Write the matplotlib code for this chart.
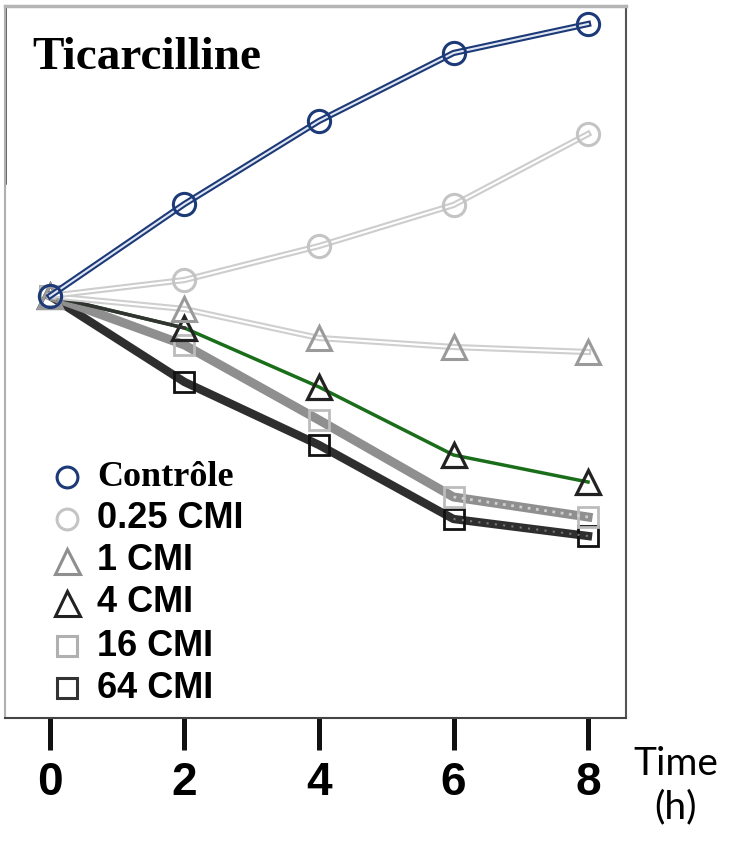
import matplotlib
matplotlib.use("Agg")
import matplotlib.pyplot as plt
import matplotlib.patheffects as pe

# sampling times (h)
time_h = [0, 2, 4, 6, 8]

# bacterial counts (log10 CFU/mL) per concentration
controle = [6.00, 6.92, 7.75, 8.43, 8.72]
cmi_025 = [6.00, 6.16, 6.50, 6.91, 7.62]
cmi_1 = [6.00, 5.87, 5.58, 5.49, 5.44]
cmi_4 = [6.00, 5.68, 5.09, 4.41, 4.14]
cmi_16 = [6.00, 5.51, 4.76, 3.99, 3.79]
cmi_64 = [6.00, 5.14, 4.51, 3.77, 3.60]

labels = ["Contrôle", "0.25 CMI", "1 CMI", "4 CMI", "16 CMI", "64 CMI"]

NAVY = "#1d3a78"

fig = plt.figure(figsize=(7.37, 8.42), dpi=100)
ax = fig.add_axes([5 / 737, 124 / 842, 621 / 737, 712 / 842])


def hollow_line(y, edge, core, marker, mec, ms, z):
    # double-stroke line, markers drawn separately so they stay thin
    ax.plot(time_h, y, color=core, lw=1.5, zorder=z,
            path_effects=[pe.Stroke(linewidth=4.5, foreground=edge), pe.Normal()])
    ax.plot(time_h, y, ls="none", marker=marker, ms=ms, mfc="none",
            mec=mec, mew=2.2, zorder=z + 0.1)


# thick lines first, double lines on top
ax.plot(time_h, cmi_64, color="#2e2e2e", lw=6, marker="s", ms=14,
        mfc="none", mec="#111111", mew=2.0, zorder=2)
ax.plot(time_h[3:], cmi_64[3:], color="#777777", lw=1.5, ls=(0, (1, 3)), zorder=2.1)
ax.plot(time_h, cmi_16, color="#8f8f8f", lw=6.5, marker="s", ms=14,
        mfc="none", mec="#bcbcbc", mew=2.0, zorder=3)
ax.plot(time_h[3:], cmi_16[3:], color="#cfcfcf", lw=2, ls=(0, (1, 2)), zorder=3.1)
ax.plot(time_h, cmi_4, color="#1a6e1a", lw=2.5, marker="^", ms=17,
        mfc="none", mec="#222222", mew=2.3, zorder=4)
ax.plot(time_h[:2], cmi_4[:2], color="#333333", lw=2.5, zorder=4.05)
hollow_line(cmi_1, "#cfcfcf", "white", "^", "#9a9a9a", 17, 5)
hollow_line(cmi_025, "#cdcdcd", "white", "o", "#c4c4c4", 16, 6)
hollow_line(controle, NAVY, "#dfe6f2", "o", NAVY, 16, 7)

ax.set_xlim(-0.669, 8.565)
ax.set_ylim(1.78, 8.90)

# axis frame
ax.spines["left"].set_color("#b0b0b0")
ax.spines["left"].set_linewidth(1.5)
ax.axvline(-0.669, ymin=0.751, ymax=1, color="#333333", lw=1.8, clip_on=False)
ax.spines["top"].set_color("#b5b5b5")
ax.spines["top"].set_linewidth(2.5)
ax.spines["right"].set_color("#555555")
ax.spines["right"].set_linewidth(1.5)
ax.spines["bottom"].set_color("#444444")
ax.spines["bottom"].set_linewidth(1.5)

ax.set_yticks([])
ax.set_xticks(time_h)
ax.set_xticklabels([str(t) for t in time_h])
ax.tick_params(axis="x", direction="out", length=23, width=3.6, color="#111111",
               pad=8, labelsize=33)
for lab in ax.get_xticklabels():
    lab.set_fontfamily("Liberation Sans")
    lab.set_fontweight("bold")

ax.text(27 / 621, 1 - 52 / 712, "Ticarcilline", transform=ax.transAxes,
        fontsize=34, fontweight="bold", family="Liberation Serif",
        ha="left", va="center")

# legend built by hand: marker only, serif for the control row
leg_styles = [
    dict(marker="o", mec=NAVY, ms=15),
    dict(marker="o", mec="#c4c4c4", ms=15),
    dict(marker="^", mec="#8f8f8f", ms=18),
    dict(marker="^", mec="#222222", ms=18),
    dict(marker="s", mec="#b0b0b0", ms=15),
    dict(marker="s", mec="#333333", ms=15),
]
row_px = [477, 519, 561, 603, 646, 688]
for lab, st, py in zip(labels, leg_styles, row_px):
    yf = (718 - py) / 712
    ax.plot([62 / 621], [yf], transform=ax.transAxes, ls="none",
            mfc="none", mew=2.2, zorder=8, **st)
    fam = "Liberation Serif" if lab == "Contrôle" else "Liberation Sans"
    ax.text(92 / 621, yf, lab, transform=ax.transAxes, fontsize=26,
            fontweight="bold", family=fam, ha="left", va="center")

fig.text(676 / 737, 1 - 786 / 842, "Time\n(h)", ha="center", va="center",
         multialignment="center", fontsize=28, family="Lato", linespacing=1.25)

fig.savefig("out.png", dpi=100)
